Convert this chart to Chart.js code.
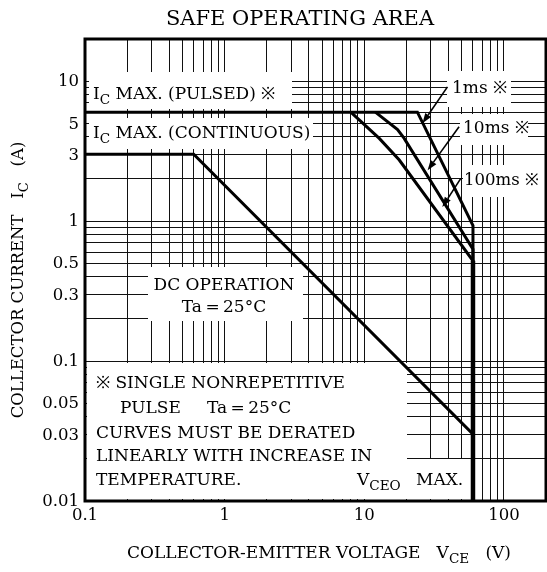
<!DOCTYPE html>
<html>
<head>
<meta charset="utf-8">
<script src="https://cdn.jsdelivr.net/npm/chart.js@4"></script>
<style>
  body { margin: 0; background: #fff; }
  #wrap { width: 547px; height: 572px; position: relative; }
</style>
</head>
<body>
<div id="wrap"><canvas id="soa"></canvas></div>
<script>
// Datos (VCE en V, IC en A)
const xRange = [0.1, 200];
const yRange = [0.01, 20];
const xTickLabels = [0.1, 1, 10, 100];
const yTickLabels = [0.01, 0.03, 0.05, 0.1, 0.3, 0.5, 1, 3, 5, 10];

const pulse1msX = [0.1, 24, 60, 60];
const pulse1msY = [6, 6, 0.93, 0.01];
const pulse10msX = [12, 17.3, 19.3, 60, 60];
const pulse10msY = [6, 4.5, 3.9, 0.63, 0.01];
const pulse100msX = [8, 12.8, 17.8, 60, 60];
const pulse100msY = [6, 3.9, 2.73, 0.52, 0.01];
const dcX = [0.1, 0.6, 60, 60];
const dcY = [3, 3, 0.03, 0.01];
const vceoX = [60, 60];
const vceoY = [0.01, 0.52];

// flechas: desde la etiqueta hasta la curva
const arrowFromX = [39.4, 47.7, 49.1];
const arrowFromY = [9.1, 4.72, 2.02];
const arrowToX = [26.1, 28.4, 36.2];
const arrowToY = [5.0, 2.31, 1.26];

const FONT = '"DejaVu Serif", serif';

function pts(xs, ys) {
    return xs.map((x, i) => ({ x: x, y: ys[i] }));
}

// texto con subindices: parts = [[texto, esSub], ...]
function drawParts(ctx, parts, x, y, size, align) {
    let total = 0;
    parts.forEach(p => {
        ctx.font = (p[1] ? size * 0.8 : size) + 'px ' + FONT;
        total += ctx.measureText(p[0]).width;
    });
    let cx = x;
    if (align === 'center') cx = x - total / 2;
    if (align === 'right') cx = x - total;
    ctx.textAlign = 'left';
    parts.forEach(p => {
        ctx.font = (p[1] ? size * 0.8 : size) + 'px ' + FONT;
        ctx.fillText(p[0], cx, y + (p[1] ? size * 0.3 : 0));
        cx += ctx.measureText(p[0]).width;
    });
}

// cajas blancas que tapan la cuadricula detras de los textos
const boxes = [
    [89, 72, 292, 109],
    [89, 118, 313, 149],
    [447, 71, 511, 107],
    [460, 114, 528, 145],
    [463, 165, 546, 197],
    [148, 267, 303, 321],
    [87, 363, 407, 499],
    [407, 459, 468, 499]
];

const labelsPlugin = {
    id: 'labels',
    beforeDatasetsDraw(chart) {
        const ctx = chart.ctx;
        ctx.save();
        ctx.fillStyle = '#fff';
        boxes.forEach(b => ctx.fillRect(b[0], b[1], b[2] - b[0], b[3] - b[1]));
        ctx.fillStyle = '#000';
        ctx.textBaseline = 'alphabetic';
        const s = 17;
        drawParts(ctx, [['I'], ['C', 1], [' MAX. (PULSED) ※']], 93, 99, s);
        drawParts(ctx, [['I'], ['C', 1], [' MAX. (CONTINUOUS)']], 93, 138, s);
        drawParts(ctx, [['1ms ※']], 452, 93, s);
        drawParts(ctx, [['10ms ※']], 463, 133, s);
        drawParts(ctx, [['100ms ※']], 464, 185, 16.5);
        drawParts(ctx, [['DC OPERATION']], 224, 290, s, 'center');
        drawParts(ctx, [['Ta\u2009=\u200925°C']], 224, 312, s, 'center');
        drawParts(ctx, [['※ SINGLE NONREPETITIVE']], 96, 388, s);
        drawParts(ctx, [['PULSE']], 120, 413, s);
        drawParts(ctx, [['Ta\u2009=\u200925°C']], 207, 413, s);
        drawParts(ctx, [['CURVES MUST BE DERATED']], 96, 438, s);
        drawParts(ctx, [['LINEARLY WITH INCREASE IN']], 96, 461, s);
        drawParts(ctx, [['TEMPERATURE.']], 96, 485, s);
        drawParts(ctx, [['V'], ['CEO', 1]], 357, 485, s);
        drawParts(ctx, [['MAX.']], 416, 485, s);
        ctx.restore();
    },
    afterDatasetsDraw(chart) {
        const ctx = chart.ctx;
        const xs = chart.scales.x, ys = chart.scales.y;
        const a = chart.chartArea;
        ctx.save();
        // flechas
        ctx.strokeStyle = '#000';
        ctx.fillStyle = '#000';
        ctx.lineWidth = 1.6;
        arrowFromX.forEach((fx, i) => {
            const x1 = xs.getPixelForValue(fx), y1 = ys.getPixelForValue(arrowFromY[i]);
            const x2 = xs.getPixelForValue(arrowToX[i]), y2 = ys.getPixelForValue(arrowToY[i]);
            const ang = Math.atan2(y2 - y1, x2 - x1);
            const len = 10, w = 3.5;
            const bx = x2 - len * Math.cos(ang), by = y2 - len * Math.sin(ang);
            ctx.beginPath();
            ctx.moveTo(x1, y1);
            ctx.lineTo(bx, by);
            ctx.stroke();
            ctx.beginPath();
            ctx.moveTo(x2, y2);
            ctx.lineTo(bx + w * Math.sin(ang), by - w * Math.cos(ang));
            ctx.lineTo(bx - w * Math.sin(ang), by + w * Math.cos(ang));
            ctx.closePath();
            ctx.fill();
        });
        // marco
        ctx.lineWidth = 3;
        ctx.strokeRect(a.left, a.top, a.right - a.left, a.bottom - a.top);
        ctx.restore();
    },
    afterDraw(chart) {
        const ctx = chart.ctx;
        const xs = chart.scales.x, ys = chart.scales.y;
        ctx.save();
        ctx.fillStyle = '#000';
        ctx.textBaseline = 'middle';
        ctx.font = '16.5px ' + FONT;
        ctx.textAlign = 'right';
        yTickLabels.forEach(v => ctx.fillText(String(v), 79, ys.getPixelForValue(v) + 1));
        ctx.textAlign = 'center';
        xTickLabels.forEach(v => ctx.fillText(String(v), xs.getPixelForValue(v), 516));
        // titulos
        ctx.textBaseline = 'alphabetic';
        ctx.font = '21px ' + FONT;
        ctx.fillText('SAFE OPERATING AREA', 300, 25);
        drawParts(ctx, [['COLLECTOR-EMITTER VOLTAGE   V'], ['CE', 1], ['   (V)']], 319, 558, 17, 'center');
        ctx.translate(23, 280);
        ctx.rotate(-Math.PI / 2);
        drawParts(ctx, [['COLLECTOR CURRENT   I'], ['C', 1], ['   (A)']], 0, 0, 16.5, 'center');
        ctx.restore();
    }
};

function logTicks(scale) {
    const ticks = [];
    for (let e = -3; e <= 3; e++) {
        for (let m = 1; m <= 9; m++) {
            const v = +(m * Math.pow(10, e)).toPrecision(3);
            if (v >= scale.min * 0.999 && v <= scale.max * 1.001) ticks.push({ value: v });
        }
    }
    scale.ticks = ticks;
}

const line = { borderColor: '#000', borderWidth: 3, pointRadius: 0, fill: false, tension: 0 };

new Chart(document.getElementById('soa'), {
    type: 'line',
    data: {
        datasets: [
            Object.assign({ label: '1ms', data: pts(pulse1msX, pulse1msY) }, line),
            Object.assign({ label: '10ms', data: pts(pulse10msX, pulse10msY) }, line),
            Object.assign({ label: '100ms', data: pts(pulse100msX, pulse100msY) }, line),
            Object.assign({ label: 'DC', data: pts(dcX, dcY) }, line),
            Object.assign({ label: 'VCEO', data: pts(vceoX, vceoY) }, line, { borderWidth: 4.5 })
        ]
    },
    options: {
        responsive: true,
        maintainAspectRatio: false,
        animation: false,
        layout: { padding: { left: 85, right: 1, top: 39, bottom: 71 } },
        plugins: { legend: { display: false }, tooltip: { enabled: false } },
        scales: {
            x: {
                type: 'logarithmic', min: xRange[0], max: xRange[1],
                afterBuildTicks: logTicks,
                afterFit(s) { s.height = 0; },
                ticks: { display: false },
                border: { display: false },
                grid: { color: '#111', lineWidth: 1, drawTicks: false }
            },
            y: {
                type: 'logarithmic', min: yRange[0], max: yRange[1],
                afterBuildTicks: logTicks,
                afterFit(s) { s.width = 0; },
                ticks: { display: false },
                border: { display: false },
                grid: { color: '#111', lineWidth: 1, drawTicks: false }
            }
        }
    },
    plugins: [labelsPlugin]
});
</script>
</body>
</html>
